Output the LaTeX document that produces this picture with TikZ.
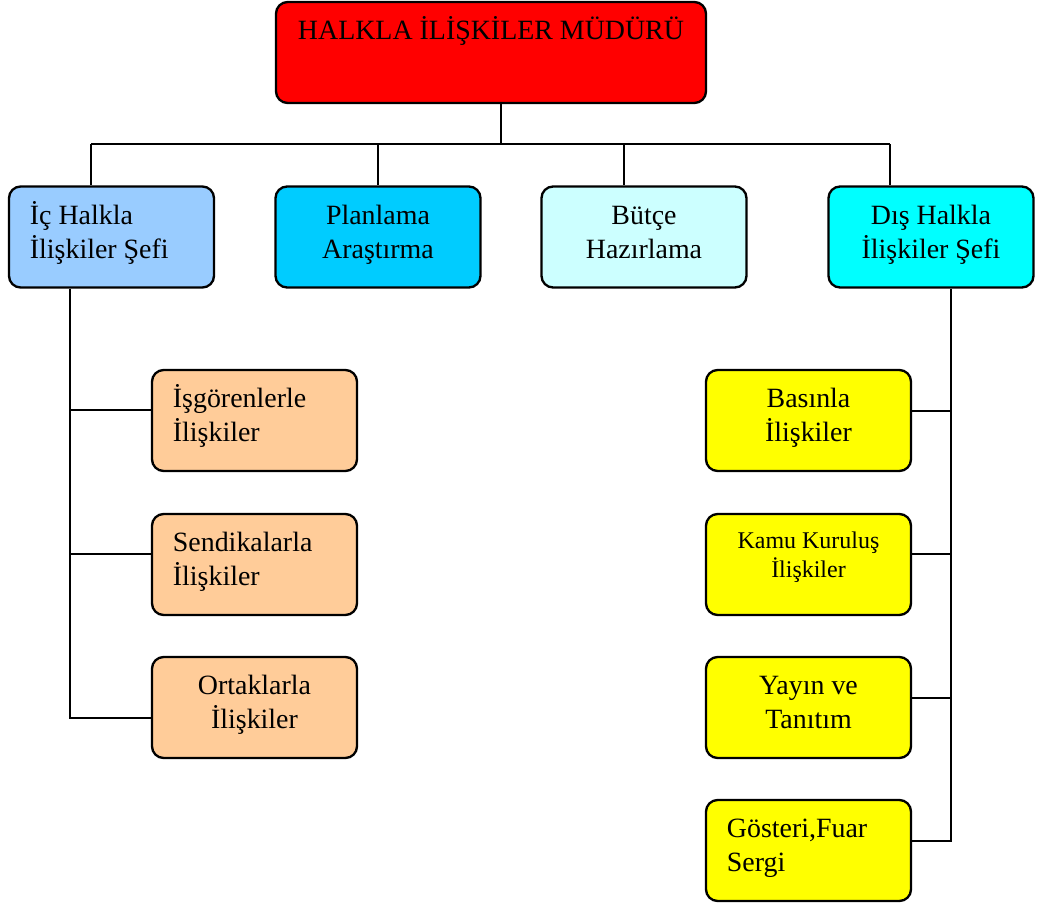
\documentclass[tikz,border=0pt]{standalone}
\usepackage{fontspec}
\setmainfont{Liberation Serif}

\definecolor{mudurkirmizi}{RGB}{255,0,0}
\definecolor{icmavi}{RGB}{153,204,255}
\definecolor{planmavi}{RGB}{0,204,255}
\definecolor{butcemavi}{RGB}{204,255,255}
\definecolor{dismavi}{RGB}{0,255,255}
\definecolor{turuncu}{RGB}{255,204,153}
\definecolor{sari}{RGB}{255,255,0}

\tikzstyle{unit} = [draw, rounded corners=5pt, line width=1pt, inner sep=0pt]
\tikzstyle{link} = [line width=1pt]

% box text: width, height, text
\newcommand{\ctxt}[3]{\parbox[c][#2][t]{#1}{\fontsize{12}{14.6}\selectfont\centering\vspace*{6.1pt}\strut #3}}
\newcommand{\ltxt}[3]{\parbox[c][#2][t]{#1}{\fontsize{12}{14.6}\selectfont\raggedright\leftskip=9pt\vspace*{6.1pt}\strut #3}}

\begin{document}
\begin{tikzpicture}[x=0.43pt, y=-0.43pt]
\useasboundingbox (0,0) rectangle (1037,905);

% top
\node[unit, fill=mudurkirmizi] (mudur) at (491,52.5)
    {\ctxt{184.9pt}{43.43pt}{HALKLA İLİŞKİLER MÜDÜRÜ}};

% second row
\node[unit, fill=icmavi] (ic) at (111.5,237)
    {\ltxt{88.15pt}{43.43pt}{İç Halkla\\İlişkiler Şefi}};
\node[unit, fill=planmavi] (planlama) at (378,237)
    {\ctxt{88.15pt}{43.43pt}{Planlama\\Araştırma}};
\node[unit, fill=butcemavi] (butce) at (644,237)
    {\ctxt{88.15pt}{43.43pt}{Bütçe\\Hazırlama}};
\node[unit, fill=dismavi] (dis) at (931,237)
    {\ctxt{88.15pt}{43.43pt}{Dış Halkla\\İlişkiler Şefi}};

% left column
\node[unit, fill=turuncu] (isgoren) at (254.5,420.5)
    {\ltxt{88.15pt}{43.43pt}{İşgörenlerle\\İlişkiler}};
\node[unit, fill=turuncu] (sendika) at (254.5,564.5)
    {\ltxt{88.15pt}{43.43pt}{Sendikalarla\\İlişkiler}};
\node[unit, fill=turuncu] (ortak) at (254.5,707.5)
    {\ctxt{88.15pt}{43.43pt}{Ortaklarla\\İlişkiler}};

% right column
\node[unit, fill=sari] (basin) at (808.5,420.5)
    {\ctxt{88.15pt}{43.43pt}{Basınla\\İlişkiler}};
\node[unit, fill=sari] (kamu) at (808.5,564.5)
    {\parbox[c][43.43pt][t]{88.15pt}{\fontsize{10.3}{12.5}\selectfont\centering\vspace*{5.9pt}\strut Kamu Kuruluş\\İlişkiler}};
\node[unit, fill=sari] (yayin) at (808.5,707.5)
    {\ctxt{88.15pt}{43.43pt}{Yayın ve\\Tanıtım}};
\node[unit, fill=sari] (gosteri) at (808.5,850.5)
    {\ltxt{88.15pt}{43.43pt}{Gösteri,Fuar\\Sergi}};

% bus under the top box
\coordinate (bus) at (501,144);
\coordinate (busL) at (91,144);
\coordinate (busR) at (890,144);
\coordinate (busB) at (624,144);
\draw[link] (mudur.south -| bus) -- (bus);
\draw[link] (busL) -- (busR);
\draw[link] (busL) -- (ic.north -| busL);
\draw[link] (planlama.north |- bus) -- (planlama.north);
\draw[link] (busB) -- (butce.north -| busB);
\draw[link] (busR) -- (dis.north -| busR);

% left trunk
\coordinate (solust) at (70,410);
\coordinate (solorta) at (70,554);
\coordinate (solalt) at (70,718);
\draw[link] (ic.south -| solalt) -- (solalt) -- (ortak.west |- solalt);
\draw[link] (solust) -- (isgoren.west |- solust);
\draw[link] (solorta) -- (sendika.west |- solorta);

% right trunk
\coordinate (sag1) at (951,411);
\coordinate (sag2) at (951,554);
\coordinate (sag3) at (951,698);
\coordinate (sag4) at (951,841);
\draw[link] (dis.south -| sag4) -- (sag4) -- (gosteri.east |- sag4);
\draw[link] (sag1) -- (basin.east |- sag1);
\draw[link] (sag2) -- (kamu.east |- sag2);
\draw[link] (sag3) -- (yayin.east |- sag3);
\end{tikzpicture}
\end{document}
